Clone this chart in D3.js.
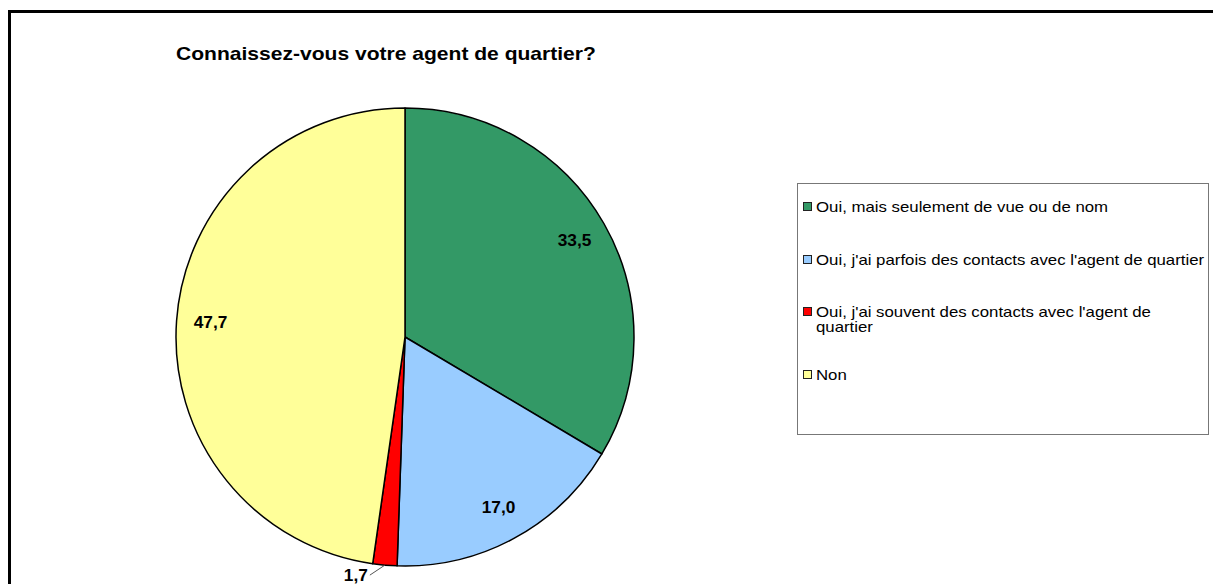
<!DOCTYPE html>
<html>
<head>
<meta charset="utf-8">
<script src="https://cdn.jsdelivr.net/npm/d3@7/dist/d3.min.js"></script>
<style>
  html, body { margin: 0; padding: 0; background: #fff; }
  svg { display: block; }
  text { font-family: Arial, "Liberation Sans", sans-serif; }
</style>
</head>
<body>
<svg id="chart" width="1213" height="584"></svg>
<script>
// Survey answers and their shares (%)
const categories = [
  "Oui, mais seulement de vue ou de nom",
  "Oui, j'ai parfois des contacts avec l'agent de quartier",
  "Oui, j'ai souvent des contacts avec l'agent de quartier",
  "Non"
];
const values = [33.5, 17.0, 1.7, 47.7];
const colors = ["#339966", "#99ccff", "#ff0000", "#ffff99"];
const legendLines = [
  ["Oui, mais seulement de vue ou de nom"],
  ["Oui, j'ai parfois des contacts avec l'agent de quartier"],
  ["Oui, j'ai souvent des contacts avec l'agent de", "quartier"],
  ["Non"]
];
const title = "Connaissez-vous votre agent de quartier?";

const fmt = v => d3.format(".1f")(v).replace(".", ",");

const svg = d3.select("#chart");

// Outer chart frame
svg.append("rect")
  .attr("x", 9.5).attr("y", 11.5)
  .attr("width", 1300).attr("height", 700)
  .attr("fill", "#fff").attr("stroke", "#000").attr("stroke-width", 3);

// Title (slightly wide lettering)
svg.append("text")
  .attr("transform", "translate(176,60) scale(1.17,1)")
  .attr("font-size", 18).attr("font-weight", "bold")
  .attr("fill", "#000")
  .text(title);

// Pie
const cx = 405, cy = 337, r = 229;
const data = categories.map((c, i) => ({ name: c, value: values[i], color: colors[i] }));
const pie = d3.pie().sort(null).value(d => d.value).startAngle(0);
const arcs = pie(data);
const arc = d3.arc().innerRadius(0).outerRadius(r);
const labelArc = d3.arc().innerRadius(195).outerRadius(195);

const g = svg.append("g").attr("transform", `translate(${cx},${cy})`);
g.selectAll("path.slice")
  .data(arcs)
  .join("path")
  .attr("class", "slice")
  .attr("d", arc)
  .attr("fill", d => d.data.color)
  .attr("stroke", "#000")
  .attr("stroke-width", 1.5)
  .attr("stroke-linejoin", "round");

// Value labels: inside for large slices, outside with a leader line for small ones
arcs.forEach(d => {
  if (d.data.value >= 5) {
    const [x, y] = labelArc.centroid(d);
    g.append("text")
      .attr("transform", `translate(${x},${y}) scale(1.08,1)`)
      .attr("text-anchor", "middle").attr("dominant-baseline", "central")
      .attr("font-size", 16).attr("font-weight", "bold")
      .text(fmt(d.data.value));
  } else {
    const mid = (d.startAngle + d.endAngle) / 2;
    const p0 = [Math.sin(mid) * r, -Math.cos(mid) * r];
    const p1 = [p0[0] - 15, p0[1] + 10];
    g.append("line")
      .attr("x1", p0[0]).attr("y1", p0[1])
      .attr("x2", p1[0]).attr("y2", p1[1])
      .attr("stroke", "#555").attr("stroke-width", 1);
    g.append("text")
      .attr("transform", `translate(${p1[0] - 2},${p1[1] + 1}) scale(1.08,1)`)
      .attr("text-anchor", "end").attr("dominant-baseline", "central")
      .attr("font-size", 16).attr("font-weight", "bold")
      .text(fmt(d.data.value));
  }
});

// Legend
const lg = svg.append("g");
lg.append("rect")
  .attr("x", 797.5).attr("y", 183.5)
  .attr("width", 411).attr("height", 251)
  .attr("fill", "#fff").attr("stroke", "#777").attr("stroke-width", 1);

const rowY = [207, 260, 312, 375];
legendLines.forEach((lines, i) => {
  lg.append("rect")
    .attr("x", 803.5).attr("y", rowY[i] - 4.5)
    .attr("width", 8).attr("height", 8)
    .attr("fill", colors[i]).attr("stroke", "#222").attr("stroke-width", 1);
  lines.forEach((t, j) => {
    lg.append("text")
      .attr("transform", `translate(816,${rowY[i] + j * 15}) scale(1.2,1)`)
      .attr("dominant-baseline", "central")
      .attr("font-size", 14).attr("fill", "#000")
      .text(t);
  });
});
</script>
</body>
</html>
